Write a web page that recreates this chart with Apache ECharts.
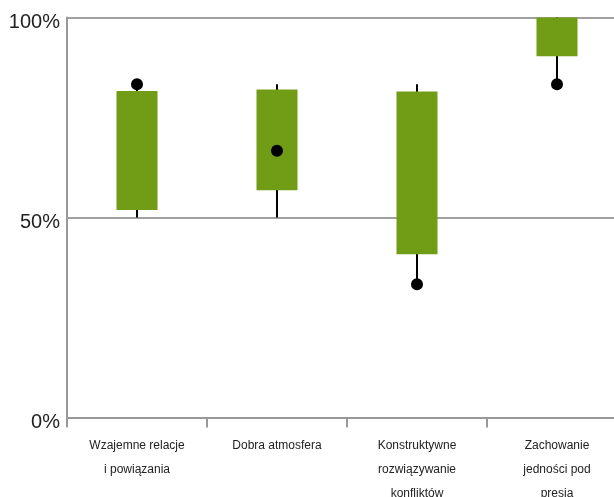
<!DOCTYPE html>
<html>
<head>
<meta charset="utf-8">
<script src="https://cdn.jsdelivr.net/npm/echarts@6/dist/echarts.min.js"></script>
<style>
html,body{margin:0;padding:0;background:#fff;}
#main{width:614px;height:497px;}
</style>
</head>
<body>
<div id="main"></div>
<script>
var categories = ['Wzajemne relacje\ni powiązania', 'Dobra atmosfera', 'Konstruktywne\nrozwiązywanie\nkonfliktów', 'Zachowanie\njedności pod\npresją'];
var whiskerLow = [50, 50, 33.3, 83.3];
var whiskerHigh = [83.3, 83.3, 83.3, 100];
var boxLow = [51.9, 56.8, 40.8, 90.3];
var boxHigh = [81.6, 82.0, 81.5, 100];
var dotValues = [83.3, 66.7, 33.3, 83.3];
var yTicks = [0, 50, 100];

var boxData = categories.map(function (c, i) {
  return [i, whiskerLow[i], whiskerHigh[i], boxLow[i], boxHigh[i]];
});

var chart = echarts.init(document.getElementById('main'), null, {renderer: 'canvas'});
chart.setOption({
  animation: false,
  grid: {left: 67, right: -13, top: 17.5, bottom: 79.5, containLabel: false, outerBoundsMode: 'none'},
  xAxis: {
    type: 'category',
    data: categories,
    boundaryGap: true,
    axisLine: {show: true, lineStyle: {color: '#999999', width: 2}},
    axisTick: {show: true, length: 10, interval: 0, alignWithLabel: false, lineStyle: {color: '#999999', width: 2}},
    axisLabel: {
      interval: 0, margin: 16, fontSize: 12, lineHeight: 24,
      color: '#222222', fontFamily: 'Liberation Sans, Arial, sans-serif'
    },
    splitLine: {show: false}
  },
  yAxis: {
    type: 'value',
    min: yTicks[0], max: yTicks[yTicks.length - 1], interval: yTicks[1] - yTicks[0],
    axisLine: {show: true, lineStyle: {color: '#999999', width: 2}},
    axisTick: {show: false},
    axisLabel: {
      formatter: '{value}%', fontSize: 20, margin: 7, color: '#222222',
      fontFamily: 'Liberation Sans, Arial, sans-serif', verticalAlign: 'top', lineHeight: 9
    },
    splitLine: {show: true, lineStyle: {color: '#a0a0a0', width: 2}}
  },
  series: [
    {
      type: 'custom',
      data: boxData,
      encode: {x: 0, y: [1, 2, 3, 4]},
      renderItem: function (params, api) {
        var idx = api.value(0);
        var lo = api.coord([idx, api.value(1)]);
        var hi = api.coord([idx, api.value(2)]);
        var bLo = api.coord([idx, api.value(3)]);
        var bHi = api.coord([idx, api.value(4)]);
        var w = api.size([1, 0])[0] * 0.293;
        return {
          type: 'group',
          children: [
            {type: 'line', shape: {x1: lo[0], y1: lo[1], x2: hi[0], y2: hi[1]},
              style: {stroke: '#000000', lineWidth: 2}},
            {type: 'rect', shape: {x: bHi[0] - w / 2, y: bHi[1], width: w, height: bLo[1] - bHi[1]},
              style: {fill: '#719c15'}}
          ]
        };
      },
      z: 2
    },
    {
      type: 'scatter',
      data: dotValues,
      symbol: 'circle',
      symbolSize: 12,
      itemStyle: {color: '#000000', opacity: 1},
      z: 3
    }
  ]
});
</script>
</body>
</html>
